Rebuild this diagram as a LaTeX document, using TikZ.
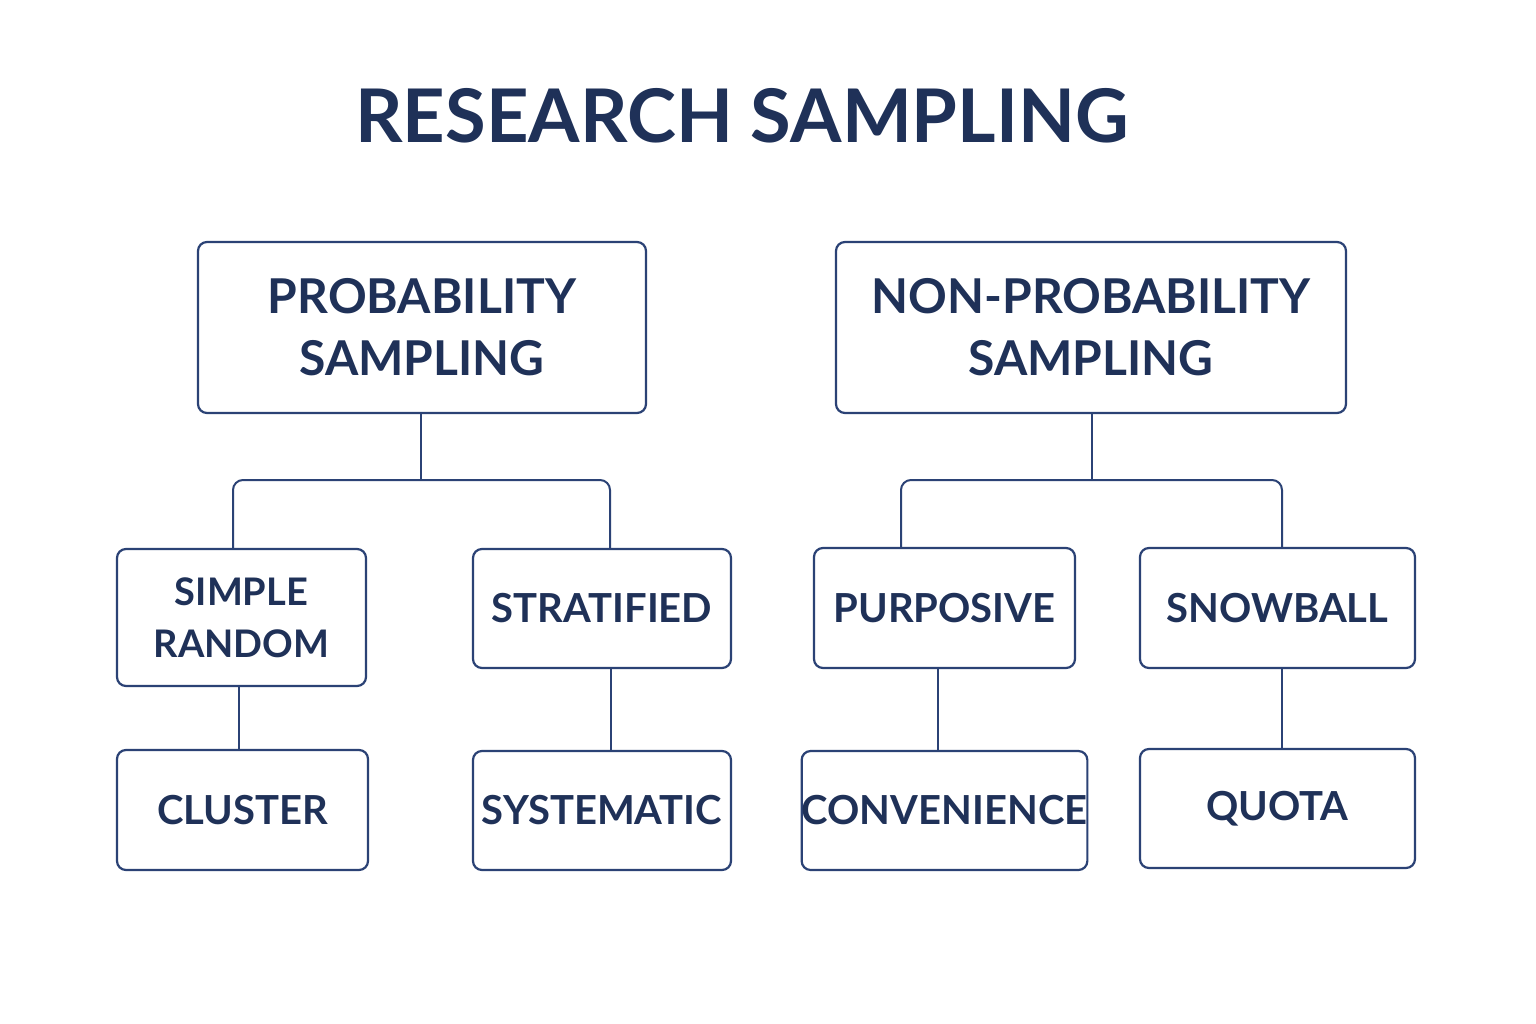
\documentclass[tikz,border=0pt]{standalone}
\usepackage{fontspec}
\setmainfont{Lato}
\definecolor{navy}{HTML}{1F3158}
\definecolor{line}{HTML}{2B4275}
\begin{document}
\begin{tikzpicture}[x=1pt,y=-1pt,
  box/.style={draw=line,line width=2.2pt,rounded corners=9pt,inner sep=0pt,align=center,text=navy,font=\bfseries\fontsize{40}{48}\selectfont},
  big/.style={box,font=\bfseries\fontsize{48}{62}\selectfont},
  con/.style={draw=line,line width=2pt,rounded corners=10pt}]
\useasboundingbox[fill=white] (0,0) rectangle (1536,1024);
\node[text=navy,font=\bfseries\fontsize{74}{80}\selectfont] (t) at (742,116) {RESEARCH SAMPLING};
\node[big,minimum width=448pt,minimum height=171pt] (p) at (422,327.5) {PROBABILITY\\SAMPLING};
\node[big,minimum width=510pt,minimum height=171pt] (n) at (1091,327.5) {NON-PROBABILITY\\SAMPLING};
\node[box,minimum width=249pt,minimum height=137pt,font=\bfseries\fontsize{38}{52}\selectfont] (sr) at (241.5,617.5) {SIMPLE\\RANDOM};
\node[box,minimum width=258pt,minimum height=119pt] (st) at (602,608.5) {STRATIFIED};
\node[box,minimum width=261pt,minimum height=120pt] (pu) at (944.5,608) {PURPOSIVE};
\node[box,minimum width=275pt,minimum height=120pt] (sn) at (1277.5,608) {SNOWBALL};
\node[box,minimum width=251pt,minimum height=120pt] (cl) at (242.5,810) {CLUSTER};
\node[box,minimum width=258pt,minimum height=119pt] (sy) at (602,810.5) {SYSTEMATIC};
\node[box,minimum width=261pt,minimum height=119pt] (co) at (944.5,810.5) {CONVENIENCE};
\node[box,minimum width=275pt,minimum height=119pt] (qu) at (1277.5,808.5) {QUOTA};
\coordinate (pj) at (421,480);
\coordinate (nj) at (1092,480);
\draw[con] (p.south -| pj) -- (pj);
\draw[con] (233,549) |- (pj) -| (610,549);
\draw[con] (n.south -| nj) -- (nj);
\draw[con] (901,548) |- (nj) -| (1282,548);
\draw[con] (239,686) -- (239,750);
\draw[con] (611,668) -- (611,751);
\draw[con] (938,668) -- (938,751);
\draw[con] (1282,668) -- (1282,749);
\end{tikzpicture}
\end{document}
